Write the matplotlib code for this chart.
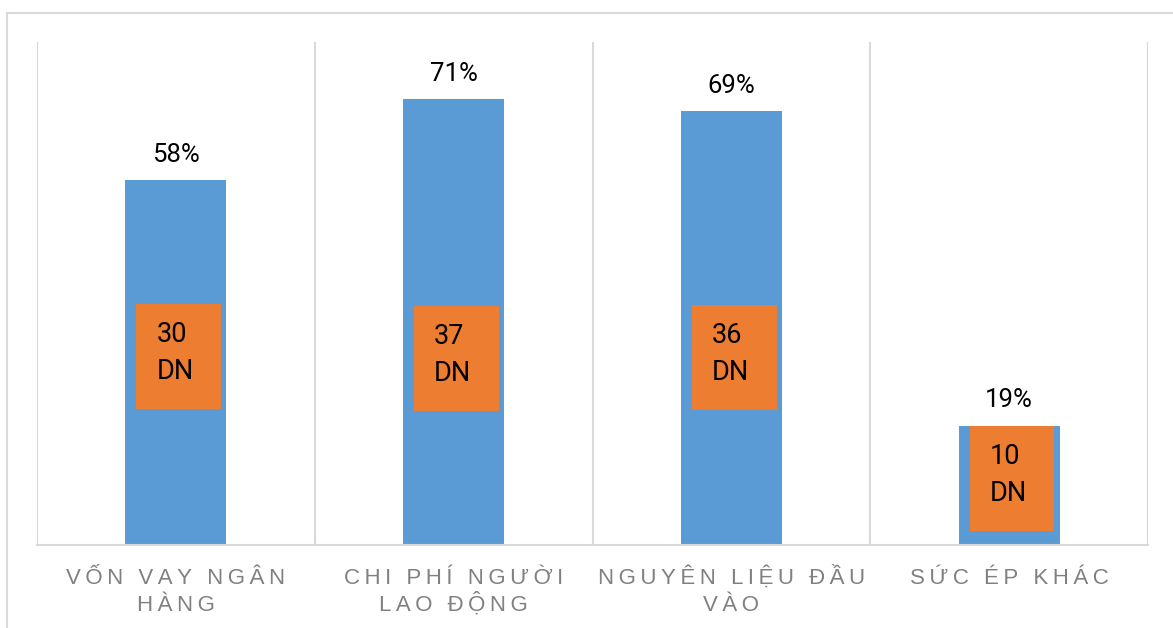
import matplotlib
matplotlib.use("Agg")
import matplotlib.pyplot as plt
from matplotlib.patches import Rectangle

# Data
# ======================================================
categories = ["VỐN VAY NGÂN\nHÀNG", "CHI PHÍ NGƯỜI\nLAO ĐỘNG", "NGUYÊN LIỆU ĐẦU\nVÀO", "SỨC ÉP KHÁC"]
percent = [58, 71, 69, 19]
n_dn = [30, 37, 36, 10]

# where the orange "DN" label boxes sit (centre, in % units)
box_y = [30.0, 29.7, 29.8, 10.6]

BLUE = "#5b9bd5"
ORANGE = "#ed7d31"
GRID = "#d9d9d9"


def spaced(line):
    # Excel letter-spacing: put a thin space between every character
    return "\u2009".join(line)


fig = plt.figure(figsize=(11.73, 6.28), dpi=100)
ax = fig.add_axes([37 / 1173, 1 - 545 / 628, (1148 - 37) / 1173, (545 - 42) / 628])

x = range(len(categories))
ax.bar(x, percent, width=0.363, color=BLUE, zorder=2)

# percentage labels above bars
for i, p in enumerate(percent):
    ax.annotate(f"{p}%", (i, p), xytext=(0, 13), textcoords="offset points",
                ha="center", va="baseline", fontsize=18.5, family="Roboto", color="black")

# orange boxes with number of firms
bw, bh = 0.305, 16.7
for i, (n, yc) in enumerate(zip(n_dn, box_y)):
    x0 = i + 0.01 - bw / 2
    ax.add_patch(Rectangle((x0, yc - bh / 2), bw, bh, facecolor=ORANGE, edgecolor="none", zorder=3))
    ax.annotate(f"{n}\nDN", (x0, yc + bh / 2), xytext=(14.5, -12.5), textcoords="offset points",
                ha="left", va="top", fontsize=19.5, family="Roboto", linespacing=1.45, zorder=4)

ax.set_xlim(-0.5, 3.5)
ax.set_ylim(0, 80)
ax.set_yticks([])
ax.set_xticks([])

# category labels, one line at a time so baselines line up
for i, cat in enumerate(categories):
    for k, line in enumerate(cat.split("\n")):
        ax.annotate(spaced(line), (i, 0), xycoords=("data", "axes fraction"),
                    xytext=(0, -28 - 19.5 * k), textcoords="offset points",
                    ha="center", va="baseline", fontsize=16, color="#808080",
                    family=["Liberation Sans", "DejaVu Sans"], annotation_clip=False)

# vertical separators between categories
for b in [-0.5, 0.5, 1.5, 2.5, 3.5]:
    ax.axvline(b, color=GRID, linewidth=1.5, zorder=1)

for s in ["top", "left", "right"]:
    ax.spines[s].set_visible(False)
ax.spines["bottom"].set_color(GRID)
ax.spines["bottom"].set_linewidth(1.5)
ax.spines["bottom"].set_zorder(5)

# outer chart border
fig.patches.append(Rectangle((7 / 1173, -0.05), 1.2, 1 - 13 / 628 + 0.05, transform=fig.transFigure,
                             fill=False, edgecolor=GRID, linewidth=1.5))

fig.savefig("out.png", dpi=100)
plt.close()
